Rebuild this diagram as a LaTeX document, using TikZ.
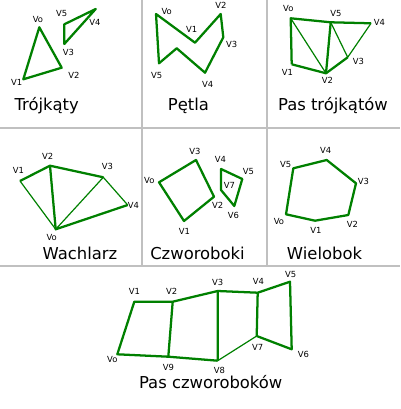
\documentclass[tikz,border=0pt]{standalone}
\usepackage{fontspec}
\setmainfont{DejaVu Sans}
\definecolor{edgegreen}{RGB}{0,128,0}
\definecolor{panelgray}{RGB}{192,192,192}

\begin{document}
\begin{tikzpicture}[x=0.75pt,y=-0.75pt,
    thickedge/.style={draw=edgegreen,line width=1.7pt,line join=round},
    thinedge/.style={draw=edgegreen,line width=0.9pt},
    vlabel/.style={inner sep=0pt,font=\fontsize{6.3}{7}\selectfont},
    paneltitle/.style={anchor=base,inner sep=0pt,font=\fontsize{12.3}{14}\selectfont}]
    \useasboundingbox (0,0) rectangle (400,409);

    \draw[panelgray,line width=1.5pt]
      (0,128.5) -- (400,128.5) (0,265.5) -- (400,265.5)
      (141.5,0) -- (141.5,265.5) (267,0) -- (267,265.5);

    % Trojkaty
    \coordinate (t0) at (39.3,27.3);  \coordinate (t1) at (23.3,79.3);
    \coordinate (t2) at (61.7,67.7);  \coordinate (t3) at (64.3,44);
    \coordinate (t4) at (95.7,9);     \coordinate (t5) at (64.3,24.3);
    \draw[thickedge] (t0) -- (t1) -- (t2) -- cycle;
    \draw[thickedge] (t5) -- (t4) -- (t3) -- cycle;
    \node[vlabel] (lt0) at (38,20) {Vo};
    \node[vlabel] (lt1) at (16.7,82) {V1};
    \node[vlabel] (lt2) at (74,75) {V2};
    \node[vlabel] (lt3) at (68.3,52.7) {V3};
    \node[vlabel] (lt4) at (95,22) {V4};
    \node[vlabel] (lt5) at (61.7,13.3) {V5};
    \node[paneltitle] (tt) at (46.7,110.5) {Trójkąty};

    % Petla
    \coordinate (p0) at (156,14);     \coordinate (p1) at (195,42.7);
    \coordinate (p2) at (220.7,14);   \coordinate (p3) at (223.3,37.3);
    \coordinate (p4) at (205,72.7);   \coordinate (pm) at (176.7,48.3);
    \coordinate (p5) at (159,63.3);
    \draw[thickedge] (p0) -- (p1) -- (p2) -- (p3) -- (p4) -- (pm) -- (p5) -- cycle;
    \node[vlabel] (lp0) at (166.7,11.7) {Vo};
    \node[vlabel] (lp1) at (191.7,29.3) {V1};
    \node[vlabel] (lp2) at (221,5.7) {V2};
    \node[vlabel] (lp3) at (231.7,44) {V3};
    \node[vlabel] (lp4) at (207.7,84) {V4};
    \node[vlabel] (lp5) at (156.7,75.7) {V5};
    \node[paneltitle] (tp) at (188.5,110.5) {Pętla};

    % Pas trojkatow
    \coordinate (s0) at (290.7,18.3); \coordinate (s1) at (291.7,64.3);
    \coordinate (s2) at (326,73.3);   \coordinate (s3) at (347.7,57.3);
    \coordinate (s4) at (371,23.3);   \coordinate (s5) at (330.7,22.3);
    \draw[thickedge] (s1) -- (s0) -- (s5) -- (s4);
    \draw[thickedge] (s1) -- (s2) -- (s3);
    \draw[thickedge] (s2) -- (s5);
    \draw[thinedge] (s0) -- (s2) (s5) -- (s3) -- (s4);
    \node[vlabel] (ls0) at (288.3,9) {Vo};
    \node[vlabel] (ls1) at (287.3,72.7) {V1};
    \node[vlabel] (ls2) at (327.3,80) {V2};
    \node[vlabel] (ls3) at (358.3,61) {V3};
    \node[vlabel] (ls4) at (379.3,22.3) {V4};
    \node[vlabel] (ls5) at (336,14) {V5};
    \node[paneltitle] (ts) at (333,110.5) {Pas trójkątów};

    % Wachlarz
    \coordinate (w0) at (55.7,229.3); \coordinate (w1) at (20,181);
    \coordinate (w2) at (50,165.7);   \coordinate (w3) at (103.3,177.3);
    \coordinate (w4) at (127.7,205);
    \draw[thickedge] (w1) -- (w2) -- (w3);
    \draw[thickedge] (w2) -- (w0) -- (w4);
    \draw[thinedge] (w1) -- (w0) -- (w3) -- (w4);
    \node[vlabel] (lw0) at (51.7,237.5) {Vo};
    \node[vlabel] (lw1) at (18.3,170.7) {V1};
    \node[vlabel] (lw2) at (47.7,156) {V2};
    \node[vlabel] (lw3) at (107.3,166) {V3};
    \node[vlabel] (lw4) at (133.3,205.7) {V4};
    \node[paneltitle] (tw) at (80,259.5) {Wachlarz};

    % Czworoboki
    \coordinate (c0) at (159,182.3);  \coordinate (c1) at (184,221);
    \coordinate (c2) at (214,196.7);  \coordinate (c3) at (196,160);
    \coordinate (c4) at (221,169);    \coordinate (c5) at (242.3,179);
    \coordinate (c6) at (234.3,206);  \coordinate (c7) at (221,190);
    \draw[thickedge] (c0) -- (c1) -- (c2) -- (c3) -- cycle;
    \draw[thickedge] (c4) -- (c5) -- (c6) -- (c7) -- cycle;
    \node[vlabel] (lc0) at (149.3,180) {Vo};
    \node[vlabel] (lc1) at (184.3,231) {V1};
    \node[vlabel] (lc2) at (217.7,205.7) {V2};
    \node[vlabel] (lc3) at (195,151) {V3};
    \node[vlabel] (lc4) at (220.3,159.3) {V4};
    \node[vlabel] (lc5) at (248.3,171) {V5};
    \node[vlabel] (lc6) at (233.3,215) {V6};
    \node[vlabel] (lc7) at (229.3,185.7) {V7};
    \node[paneltitle] (tc) at (197.5,259.5) {Czworoboki};

    % Wielobok
    \coordinate (g0) at (286,214.3);  \coordinate (g1) at (315,220.7);
    \coordinate (g2) at (348.3,215);  \coordinate (g3) at (356,183.3);
    \coordinate (g4) at (326.7,160);  \coordinate (g5) at (293.3,168.3);
    \draw[thickedge] (g0) -- (g1) -- (g2) -- (g3) -- (g4) -- (g5) -- cycle;
    \node[vlabel] (lg0) at (279,221.7) {Vo};
    \node[vlabel] (lg1) at (316,230.7) {V1};
    \node[vlabel] (lg2) at (352.3,224) {V2};
    \node[vlabel] (lg3) at (363.3,181) {V3};
    \node[vlabel] (lg4) at (325.7,150) {V4};
    \node[vlabel] (lg5) at (285.7,164.3) {V5};
    \node[paneltitle] (tg) at (324.5,259.5) {Wielobok};

    % Pas czworobokow
    \coordinate (q0) at (117.3,354.3); \coordinate (q1) at (134.3,301.7);
    \coordinate (q2) at (172.7,301.7); \coordinate (q3) at (217.7,291);
    \coordinate (q4) at (257.7,292.7); \coordinate (q5) at (290,281.7);
    \coordinate (q6) at (291.7,349.3); \coordinate (q7) at (256.7,336);
    \coordinate (q8) at (217.7,360.7); \coordinate (q9) at (168.3,356.7);
    \draw[thickedge] (q7) -- (q6) -- (q5) -- (q4) -- (q3) -- (q2) -- (q1) -- (q0) -- (q9) -- (q8);
    \draw[thickedge] (q2) -- (q9) (q3) -- (q8) (q4) -- (q7);
    \draw[thinedge] (q7) -- (q8);
    \node[vlabel] (lq0) at (112.3,359.3) {Vo};
    \node[vlabel] (lq1) at (134.3,291) {V1};
    \node[vlabel] (lq2) at (171.7,291.7) {V2};
    \node[vlabel] (lq3) at (217.7,282.7) {V3};
    \node[vlabel] (lq4) at (258.3,281) {V4};
    \node[vlabel] (lq5) at (290.7,274) {V5};
    \node[vlabel] (lq6) at (303.3,354.3) {V6};
    \node[vlabel] (lq7) at (257.7,347.3) {V7};
    \node[vlabel] (lq8) at (219.3,370.7) {V8};
    \node[vlabel] (lq9) at (168.3,367.3) {V9};
    \node[paneltitle] (tq) at (210.7,388.5) {Pas czworoboków};
\end{tikzpicture}
\end{document}
